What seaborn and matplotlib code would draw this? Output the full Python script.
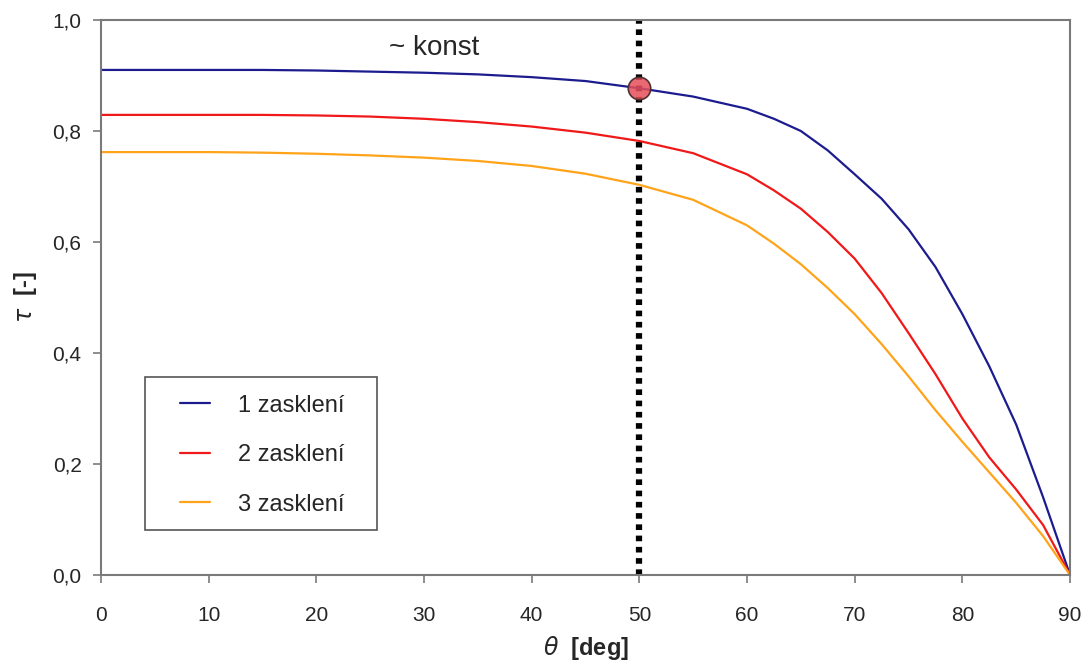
import numpy as np
import pandas as pd
import matplotlib
matplotlib.use("Agg")
import matplotlib.pyplot as plt
import seaborn as sns
from matplotlib.ticker import FuncFormatter
from matplotlib.lines import Line2D
from matplotlib.patches import Rectangle

# angle of incidence [deg]
theta = [0, 5, 10, 15, 20, 25, 30, 35, 40, 45, 50, 55, 60, 62.5, 65, 67.5,
         70, 72.5, 75, 77.5, 80, 82.5, 85, 87.5, 90]

# transmittance
tau_1 = [0.910, 0.910, 0.910, 0.910, 0.909, 0.907, 0.905, 0.902, 0.897, 0.890,
         0.877, 0.862, 0.840, 0.822, 0.800, 0.765, 0.722, 0.678, 0.623, 0.555,
         0.470, 0.376, 0.271, 0.140, 0.0]
tau_2 = [0.829, 0.829, 0.829, 0.829, 0.828, 0.826, 0.822, 0.816, 0.808, 0.797,
         0.782, 0.760, 0.722, 0.693, 0.660, 0.618, 0.570, 0.508, 0.436, 0.362,
         0.282, 0.212, 0.154, 0.090, 0.0]
tau_3 = [0.762, 0.762, 0.762, 0.761, 0.759, 0.756, 0.752, 0.746, 0.737, 0.723,
         0.703, 0.676, 0.630, 0.597, 0.560, 0.517, 0.470, 0.416, 0.358, 0.297,
         0.240, 0.185, 0.130, 0.070, 0.0]

series_names = ["1 zasklení", "2 zasklení", "3 zasklení"]
colors = ["#1c1c8f", "#f01818", "#ffa31a"]

marker_theta = 50
marker_tau = 0.877

df = pd.DataFrame({
    "theta": theta * 3,
    "tau": tau_1 + tau_2 + tau_3,
    "serie": [series_names[0]] * len(theta) + [series_names[1]] * len(theta)
             + [series_names[2]] * len(theta),
})

sns.set_style("white")
plt.rcParams['font.family'] = ['Liberation Sans', 'DejaVu Sans']

fig = plt.figure(figsize=(10.88, 6.62), dpi=100)
ax = fig.add_axes([0.0928, 0.1314, 0.8907, 0.8384])

sns.lineplot(data=df, x="theta", y="tau", hue="serie", palette=colors,
             linewidth=1.6, ax=ax, legend=False)

# vertical dotted line and marked point
ax.axvline(marker_theta, color="black", linestyle=(0, (0.9, 0.9)), linewidth=4.5, zorder=1)
ax.scatter([marker_theta], [marker_tau], s=260, facecolor=(0.9, 0.3, 0.35, 0.85),
           edgecolor="#503030", linewidth=1.2, zorder=5)

ax.text(30.9, 0.949, "~ konst", fontsize=20, ha="center", va="center")

ax.set_xlim(0, 90)
ax.set_ylim(0, 1.0)
ax.set_xticks(range(0, 91, 10))
ax.set_yticks(np.arange(0, 1.01, 0.2))
ax.yaxis.set_major_formatter(FuncFormatter(lambda v, p: f"{v:.1f}".replace(".", ",")))

for s in ax.spines.values():
    s.set_color("#7a7a7a")
    s.set_linewidth(1.5)
ax.tick_params(axis="both", direction="out", length=6, width=1.2, color="#7a7a7a",
               labelsize=15, pad=8, left=True, bottom=True)
ax.tick_params(axis="x", pad=16)

ax.set_xlabel(r"$\theta$  [deg]", fontsize=17, fontweight="bold", labelpad=7)
ax.set_ylabel(r"$\tau$  [-]", fontsize=17, fontweight="bold", labelpad=10)

# legend: frame drawn separately so the inner padding can match
ax.add_patch(Rectangle((0.0454, 0.081), 0.2394, 0.276, transform=ax.transAxes,
                       facecolor="white", edgecolor="#555555", linewidth=1.2, zorder=6))
handles = [Line2D([0], [0], color=c, linewidth=1.6) for c in colors]
leg = ax.legend(handles, series_names, loc="center left",
                bbox_to_anchor=(0.0815, 0.216), handlelength=1.27, handletextpad=1.18,
                labelspacing=1.16, borderpad=0, borderaxespad=0,
                frameon=False, prop={"size": 17})
leg.set_zorder(7)

fig.savefig("out.png", dpi=100)
